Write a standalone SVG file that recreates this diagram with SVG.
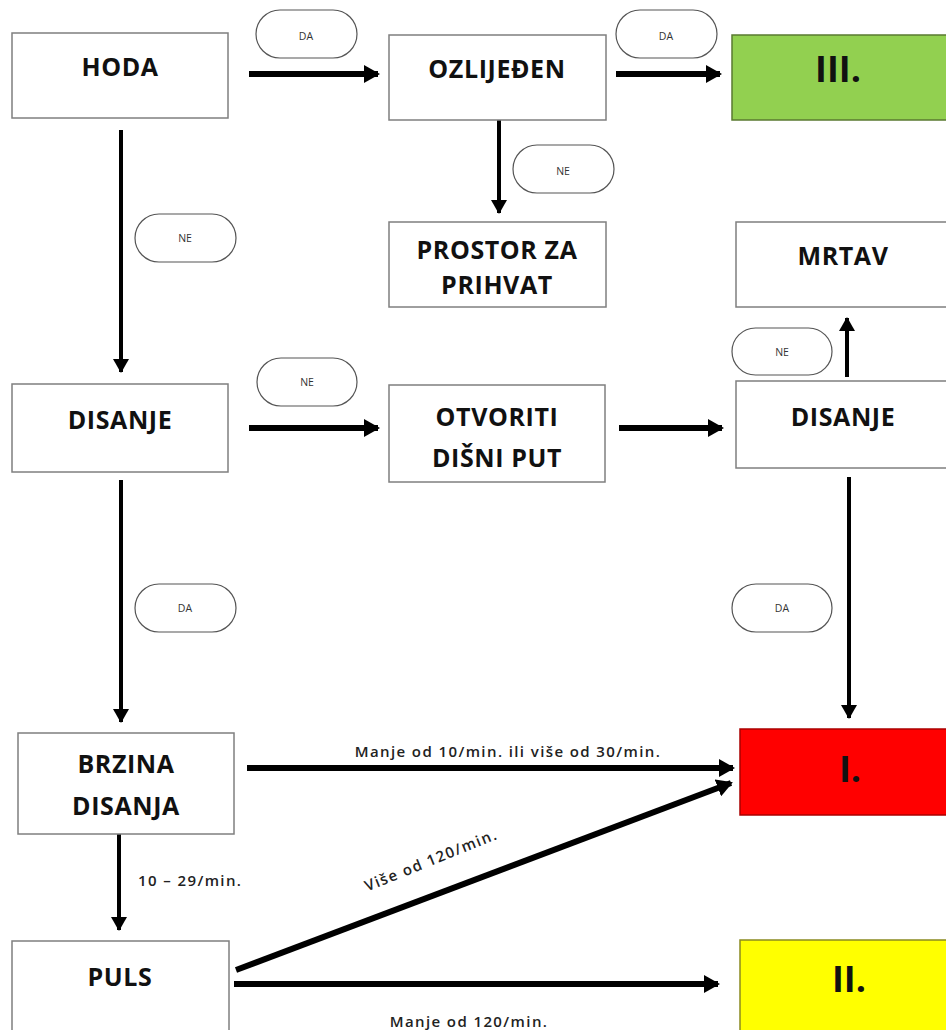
<svg xmlns="http://www.w3.org/2000/svg" width="946" height="1030" viewBox="0 0 946 1030">
<style>
.box{fill:#fff;stroke:#7f7f7f;stroke-width:1.5}
.t{font-family:"Open Sans","Liberation Sans",sans-serif;font-weight:bold;font-size:25px;letter-spacing:0.6px;fill:#111;text-anchor:middle}
.big{font-size:36px;letter-spacing:0}
.pill{fill:#fff;stroke:#555;stroke-width:1.2}
.pt{font-family:"Open Sans","Liberation Sans",sans-serif;font-size:10.5px;fill:#333;text-anchor:middle}
.lab{font-family:"Open Sans","Liberation Sans",sans-serif;font-weight:600;font-size:15px;letter-spacing:1.4px;fill:#222;text-anchor:middle}
.lst{text-anchor:start}
.c{stroke:#000;fill:none}
.w6{stroke-width:6}
.w4{stroke-width:4}
</style>
<defs>
<marker id="ah" markerUnits="userSpaceOnUse" markerWidth="16" markerHeight="18" refX="14" refY="9" orient="auto">
<path d="M0,0 L16,9 L0,18 Z" fill="#000"/>
</marker>
<marker id="ahs" markerUnits="userSpaceOnUse" markerWidth="14" markerHeight="16" refX="13" refY="8" orient="auto">
<path d="M0,0 L14,8 L0,16 Z" fill="#000"/>
</marker>
</defs>
<rect width="946" height="1030" fill="#fff"/>

<g id="connectors">
<line class="c w6" x1="249" y1="74" x2="378" y2="74" marker-end="url(#ah)"/>
<line class="c w6" x1="616" y1="74" x2="720" y2="74" marker-end="url(#ah)"/>
<line class="c w4" x1="499" y1="120" x2="499" y2="213" marker-end="url(#ahs)"/>
<line class="c w4" x1="121" y1="130" x2="121" y2="372" marker-end="url(#ahs)"/>
<line class="c w6" x1="249" y1="428" x2="378" y2="428" marker-end="url(#ah)"/>
<line class="c w6" x1="619" y1="428" x2="722" y2="428" marker-end="url(#ah)"/>
<line class="c w4" x1="847" y1="377" x2="847" y2="318" marker-end="url(#ahs)"/>
<line class="c w4" x1="849" y1="477" x2="849" y2="718" marker-end="url(#ahs)"/>
<line class="c w4" x1="121" y1="480" x2="121" y2="722" marker-end="url(#ahs)"/>
<line class="c w6" x1="247" y1="768" x2="733" y2="768" marker-end="url(#ah)"/>
<line class="c w4" x1="119" y1="834" x2="119" y2="930" marker-end="url(#ahs)"/>
<line class="c w6" x1="236" y1="970" x2="731" y2="783" marker-end="url(#ah)"/>
<line class="c w6" x1="234" y1="984" x2="718" y2="984" marker-end="url(#ah)"/>
<text class="lab" x="508" y="757">Manje od 10/min. ili više od 30/min.</text>
<text class="lab lst" x="138" y="886">10 – 29/min.</text>
<text class="lab" x="433" y="865" transform="rotate(-22 433 865)">Više od 120/min.</text>
<text class="lab" x="469" y="1027">Manje od 120/min.</text>
</g>

<g id="pills">
<rect class="pill" x="256" y="10" width="101" height="48" rx="24"/><text class="pt" x="306" y="40">DA</text>
<rect class="pill" x="616" y="10" width="101" height="48" rx="24"/><text class="pt" x="666" y="40">DA</text>
<rect class="pill" x="513" y="145" width="101" height="48" rx="24"/><text class="pt" x="563" y="175">NE</text>
<rect class="pill" x="135" y="214" width="101" height="48" rx="24"/><text class="pt" x="185" y="242">NE</text>
<rect class="pill" x="257" y="358" width="100" height="48" rx="24"/><text class="pt" x="307" y="386">NE</text>
<rect class="pill" x="732" y="328" width="100" height="47" rx="23.5"/><text class="pt" x="782" y="356">NE</text>
<rect class="pill" x="135" y="584" width="101" height="48" rx="24"/><text class="pt" x="185" y="612">DA</text>
<rect class="pill" x="732" y="584" width="100" height="48" rx="24"/><text class="pt" x="782" y="612">DA</text>
</g>

<g id="hoda"><rect class="box" x="12" y="33" width="216" height="85"/><text class="t" x="120" y="76">HODA</text></g>
<g id="ozlijeden"><rect class="box" x="389" y="35" width="217" height="85"/><text class="t" x="497" y="78">OZLIJEĐEN</text></g>
<g id="iii"><rect x="732" y="35" width="216" height="85" fill="#92D050" stroke="#5a7a30" stroke-width="1.5"/><text class="t big" x="838" y="82">III.</text></g>
<g id="prostor"><rect class="box" x="389" y="222" width="217" height="85"/><text class="t" x="497" y="259">PROSTOR ZA</text><text class="t" x="497" y="294">PRIHVAT</text></g>
<g id="mrtav"><rect class="box" x="736" y="222" width="212" height="85"/><text class="t" x="843" y="265">MRTAV</text></g>
<g id="disanje1"><rect class="box" x="12" y="384" width="216" height="88"/><text class="t" x="120" y="429">DISANJE</text></g>
<g id="otvoriti"><rect class="box" x="389" y="385" width="216" height="97"/><text class="t" x="497" y="426">OTVORITI</text><text class="t" x="497" y="467">DIŠNI PUT</text></g>
<g id="disanje2"><rect class="box" x="736" y="381" width="212" height="87"/><text class="t" x="843" y="426">DISANJE</text></g>
<g id="brzina"><rect class="box" x="18" y="733" width="216" height="101"/><text class="t" x="126" y="773">BRZINA</text><text class="t" x="126" y="815">DISANJA</text></g>
<g id="i"><rect x="740" y="729" width="208" height="86" fill="#FF0000" stroke="#a00" stroke-width="1.5"/><text class="t big" x="850" y="782">I.</text></g>
<g id="puls"><rect class="box" x="12" y="941" width="217" height="95"/><text class="t" x="120" y="986">PULS</text></g>
<g id="ii"><rect x="740" y="940" width="208" height="95" fill="#FFFF00" stroke="#8a8a20" stroke-width="1.5"/><text class="t big" x="849" y="992">II.</text></g>
</svg>
